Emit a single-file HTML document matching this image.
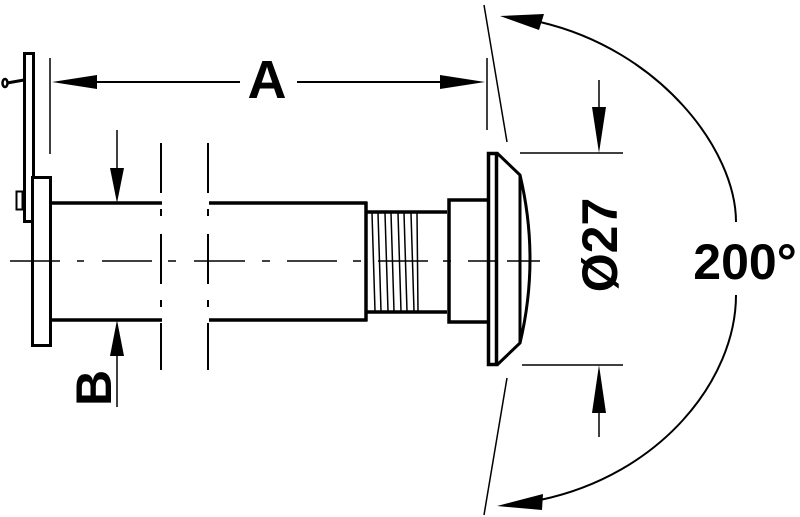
<!DOCTYPE html>
<html><head><meta charset="utf-8"><style>html,body{margin:0;padding:0;background:#fff}svg{display:block}</style></head>
<body>
<svg width="800" height="517" viewBox="0 0 800 517" xmlns="http://www.w3.org/2000/svg" font-family="Liberation Sans, sans-serif" font-weight="bold">
<g fill="none" stroke="#000">
<!-- door plate -->
<rect x="24.5" y="53.5" width="9" height="168" stroke-width="3"/>
<rect x="16.5" y="191.5" width="6" height="18" stroke-width="2"/>
<line x1="7" y1="83" x2="24" y2="80" stroke-width="3"/>
<ellipse cx="5" cy="83" rx="2.5" ry="4" stroke-width="2.5"/>
<!-- flange -->
<rect x="32.5" y="177.5" width="18" height="168" stroke-width="3" fill="#fff"/>
<!-- tube lines -->
<line x1="51" y1="203" x2="162" y2="203" stroke-width="3.5"/>
<line x1="51" y1="320" x2="162" y2="320" stroke-width="3.5"/>
<line x1="209" y1="203" x2="367" y2="203" stroke-width="3.5"/>
<line x1="209" y1="320" x2="367" y2="320" stroke-width="3.5"/>
<line x1="366" y1="201.5" x2="366" y2="321.5" stroke-width="3.5"/>
<!-- thread -->
<line x1="366" y1="212" x2="447" y2="212" stroke-width="3.5"/>
<line x1="366" y1="312" x2="447" y2="312" stroke-width="3.5"/>
<g stroke-width="1.5">
<line x1="372" y1="213" x2="375" y2="311"/><line x1="378" y1="213" x2="381" y2="311"/>
<line x1="385" y1="213" x2="388" y2="311"/><line x1="391" y1="213" x2="394" y2="311"/>
<line x1="398" y1="213" x2="401" y2="311"/><line x1="404" y1="213" x2="407" y2="311"/>
<line x1="411" y1="213" x2="414" y2="311"/><line x1="417" y1="213" x2="418" y2="311"/>
</g>
<!-- nut -->
<polyline points="488,200 449,200 449,322 488,322" stroke-width="3.5"/>
<!-- rim -->
<rect x="488.5" y="153.5" width="8" height="211" stroke-width="3.5"/>
<path d="M497,153 L520,175 L520,343 L497,365" stroke-width="3"/>
<path d="M520,175 Q540,259 520,343" stroke-width="3"/>
<!-- centerline -->
<path d="M10,261 H60 M77,261 H84 M102,261 H152 M168,261 H176 M194,261 H245 M262,261 H270 M287,261 H337 M353,261 H361 M378,261 H428 M443,261 H451 M468,261 H487 M490,261 H495 M507,261 H540" stroke-width="1.5"/>
<!-- break lines -->
<path d="M161,143 V193 M161,209 V216 M161,234 V284 M161,300 V307 M161,323 V370" stroke-width="2"/>
<path d="M208,143 V193 M208,209 V216 M208,234 V284 M208,300 V307 M208,323 V370" stroke-width="2"/>
<!-- A dimension -->
<line x1="50" y1="58" x2="50" y2="154" stroke-width="1.5"/>
<line x1="487" y1="58" x2="487" y2="130" stroke-width="1.5"/>
<path d="M95,82 H240 M297,82 H442" stroke-width="2"/>
<!-- B -->
<line x1="117" y1="130" x2="117" y2="170" stroke-width="1.5"/>
<line x1="117" y1="355" x2="117" y2="407" stroke-width="1.5"/>
<!-- slant lines -->
<line x1="484" y1="5" x2="507" y2="142" stroke-width="1.5"/>
<line x1="507" y1="378" x2="484" y2="515" stroke-width="1.5"/>
<!-- Ø27 dims -->
<line x1="520" y1="153" x2="623" y2="153" stroke-width="1.5"/>
<line x1="522" y1="365" x2="623" y2="365" stroke-width="1.5"/>
<line x1="599" y1="80" x2="599" y2="110" stroke-width="1.5"/>
<line x1="599" y1="410" x2="599" y2="437" stroke-width="1.5"/>
<!-- arc -->
<path d="M540,22 C660,50 736,150 736,222" stroke-width="2"/>
<path d="M736,295 C736,380 660,475 540,500" stroke-width="2"/>
</g>
<g fill="#000">
<polygon points="52,82 97,75 97,89"/>
<polygon points="485,82 440,75 440,89"/>
<polygon points="117,203 110,168 124,168"/>
<polygon points="117,320 110,356 124,356"/>
<polygon points="599,153 592,107 606,107"/>
<polygon points="599,365 592,413 606,413"/>
<polygon points="500,16 544,14 539,30"/>
<polygon points="497,506 543,494 542,510"/>
</g>
<text x="267" y="98" font-size="54" text-anchor="middle">A</text>
<text transform="translate(111,388) rotate(-90)" font-size="50" text-anchor="middle">B</text>
<text transform="translate(617,245) rotate(-90)" font-size="50" text-anchor="middle">Ø27</text>
<text x="745" y="279" font-size="50" text-anchor="middle">200°</text>
</svg>
</body></html>
